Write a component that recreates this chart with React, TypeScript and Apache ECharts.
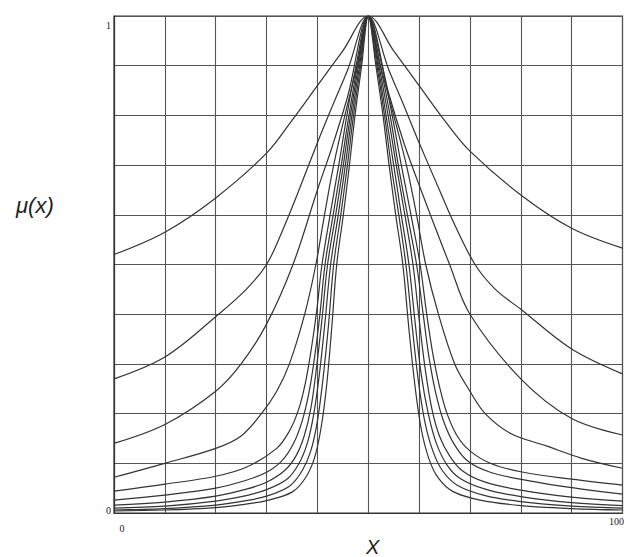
import { useEffect, useRef } from "react";
import * as echarts from "echarts";

// Axis ranges and tick labels
const xRange = [0, 100];
const yRange = [0, 1];
const xTickLabels: Record<number, string> = { 0: "0", 100: "100" };
const yTickLabels: Record<number, string> = { 0: "0", 1: "1" };

// Membership curves μ(x), each centred on x = 50, from widest to narrowest
const curve1 = [[0, 0.52], [10, 0.565], [20, 0.634], [30, 0.724], [35, 0.79], [40, 0.86], [45, 0.93], [50, 1], [55, 0.93], [60, 0.86], [65, 0.79], [70, 0.728], [80, 0.64], [90, 0.573], [100, 0.533]];
const curve2 = [[0, 0.27], [10, 0.314], [20, 0.395], [26, 0.45], [30, 0.5], [33, 0.565], [36, 0.64], [40, 0.745], [43, 0.82], [46, 0.893], [50, 1], [54, 0.893], [57, 0.82], [60, 0.745], [64, 0.65], [67, 0.58], [71, 0.5], [75, 0.45], [80, 0.41], [90, 0.33], [100, 0.28]];
const curve3 = [[0, 0.14], [10, 0.178], [20, 0.245], [25, 0.3], [30, 0.38], [35.2, 0.5], [40, 0.65], [43, 0.74], [46, 0.84], [50, 1], [54, 0.845], [57, 0.745], [60, 0.66], [66, 0.5], [70, 0.4], [80, 0.27], [90, 0.19], [100, 0.157]];
const curve4 = [[0, 0.072], [10, 0.1], [20, 0.13], [25, 0.155], [29, 0.2], [32, 0.245], [34.5, 0.3], [37.5, 0.4], [39.7, 0.5], [41.4, 0.6], [43.2, 0.7], [45.4, 0.8], [47.8, 0.9], [50, 1], [52.4, 0.9], [55, 0.8], [57.5, 0.7], [59.5, 0.6], [61.3, 0.5], [63.8, 0.4], [67, 0.3], [70, 0.245], [73, 0.2], [78, 0.16], [85, 0.135], [92, 0.11], [100, 0.09]];
const curve5 = [[0, 0.044], [10, 0.058], [20, 0.074], [26, 0.092], [32, 0.13], [34.5, 0.165], [36.2, 0.205], [37.6, 0.26], [38.8, 0.33], [39.9, 0.41], [40.9, 0.5], [42.5, 0.6], [44.2, 0.7], [45.8, 0.8], [47.6, 0.9], [50, 1], [52.7, 0.9], [54.7, 0.8], [56.5, 0.7], [58.4, 0.6], [60.2, 0.5], [61.5, 0.4], [62.7, 0.32], [64, 0.255], [65.5, 0.2], [67.5, 0.155], [70, 0.125], [74, 0.1], [80, 0.083], [90, 0.068], [100, 0.056]];
const curve6 = [[0, 0.026], [10, 0.036], [20, 0.05], [26, 0.066], [30, 0.082], [33, 0.105], [35.3, 0.14], [37, 0.185], [38.3, 0.24], [39.4, 0.31], [40.5, 0.4], [41.5, 0.5], [43.1, 0.6], [44.7, 0.7], [46.2, 0.8], [47.9, 0.9], [50, 1], [52.35, 0.9], [54.3, 0.8], [55.9, 0.7], [57.7, 0.6], [59.5, 0.5], [60.8, 0.4], [62, 0.31], [63.3, 0.24], [64.8, 0.185], [66.8, 0.14], [69.5, 0.105], [74, 0.082], [82, 0.064], [92, 0.048], [100, 0.038]];
const curve7 = [[0, 0.016], [10, 0.022], [20, 0.034], [26, 0.048], [30, 0.062], [33.5, 0.085], [35.8, 0.115], [37.4, 0.155], [38.7, 0.21], [39.8, 0.29], [40.9, 0.39], [42, 0.5], [43.6, 0.6], [45.1, 0.7], [46.5, 0.8], [48.1, 0.9], [50, 1], [52.1, 0.9], [53.9, 0.8], [55.5, 0.7], [57.2, 0.6], [58.8, 0.5], [60, 0.39], [61.2, 0.29], [62.5, 0.21], [64, 0.155], [66, 0.115], [68.5, 0.085], [73, 0.062], [80, 0.046], [90, 0.032], [100, 0.024]];
const curve8 = [[0, 0.01], [10, 0.014], [20, 0.024], [26, 0.035], [30, 0.047], [34, 0.068], [36.3, 0.098], [38, 0.14], [39.3, 0.2], [40.4, 0.28], [41.5, 0.385], [42.6, 0.5], [44.1, 0.6], [45.5, 0.7], [46.8, 0.8], [48.3, 0.9], [50, 1], [51.9, 0.9], [53.5, 0.8], [55, 0.7], [56.5, 0.6], [58, 0.5], [59.2, 0.385], [60.4, 0.28], [61.8, 0.2], [63.4, 0.14], [65.4, 0.098], [68, 0.07], [73, 0.048], [80, 0.033], [90, 0.021], [100, 0.015]];
const curve9 = [[0, 0.006], [10, 0.009], [20, 0.016], [26, 0.025], [30, 0.034], [34.5, 0.054], [37, 0.085], [38.7, 0.125], [40, 0.185], [41.1, 0.27], [42.2, 0.38], [43.2, 0.5], [44.6, 0.6], [45.9, 0.7], [47.1, 0.8], [48.5, 0.9], [50, 1], [51.7, 0.9], [53.2, 0.8], [54.5, 0.7], [56, 0.6], [57.4, 0.5], [58.6, 0.38], [59.8, 0.27], [61.1, 0.185], [62.7, 0.125], [64.6, 0.085], [67.5, 0.056], [73, 0.035], [80, 0.023], [90, 0.014], [100, 0.01]];
const curve10 = [[0, 0.004], [10, 0.006], [20, 0.011], [26, 0.018], [30, 0.025], [35, 0.042], [37.6, 0.07], [39.4, 0.11], [40.7, 0.17], [41.8, 0.255], [42.8, 0.37], [43.8, 0.5], [45.1, 0.6], [46.3, 0.7], [47.4, 0.8], [48.7, 0.9], [50, 1], [51.5, 0.9], [52.9, 0.8], [54.1, 0.7], [55.4, 0.6], [56.8, 0.5], [58, 0.37], [59.2, 0.255], [60.4, 0.17], [61.9, 0.11], [63.8, 0.07], [66.7, 0.043], [72, 0.026], [80, 0.015], [90, 0.009], [100, 0.006]];

const curves = [curve1, curve2, curve3, curve4, curve5, curve6, curve7, curve8, curve9, curve10];

const INK = "#333333";
const GRID = "#555555";
const SERIF = "'Liberation Serif', 'DejaVu Serif', serif";
const SANS = "'Liberation Sans', Arial, sans-serif";

export default function App() {
  const ref = useRef<HTMLDivElement>(null);

  useEffect(() => {
    if (!ref.current) return;
    const chart = echarts.init(ref.current, null, { renderer: "svg" });

    chart.setOption({
      animation: false,
      backgroundColor: "#ffffff",
      grid: {
        left: 114,
        right: 4,
        top: 16,
        bottom: 44,
        show: true,
        borderColor: INK,
        borderWidth: 1.2,
      },
      xAxis: {
        type: "value",
        min: xRange[0],
        max: xRange[1],
        interval: 10,
        axisLine: { show: true, lineStyle: { color: INK, width: 1.2 } },
        axisTick: { show: false },
        splitLine: { show: true, lineStyle: { color: GRID, width: 1.1 } },
        axisLabel: {
          margin: 3,
          color: "#222",
          fontFamily: SERIF,
          fontSize: 10,
          showMinLabel: true,
          showMaxLabel: true,
          formatter: (v: number) => {
            const t = xTickLabels[v];
            if (!t) return "";
            return v === xRange[0] ? `{lo|${t}}` : `{hi|${t}}`;
          },
          rich: {
            lo: { fontFamily: SERIF, fontSize: 10, color: "#222", padding: [7, 0, 0, 16] },
            hi: { fontFamily: SERIF, fontSize: 10, color: "#222", padding: [0, 12, 0, 0] },
          },
        },
      },
      yAxis: {
        type: "value",
        min: yRange[0],
        max: yRange[1],
        interval: 0.1,
        axisLine: { show: true, lineStyle: { color: INK, width: 1.2 } },
        axisTick: { show: false },
        splitLine: { show: true, lineStyle: { color: GRID, width: 1.1 } },
        axisLabel: {
          margin: 3,
          color: "#222",
          fontFamily: SERIF,
          fontSize: 10,
          showMinLabel: true,
          showMaxLabel: true,
          formatter: (v: number) => {
            const key = Math.round(v * 10) / 10;
            const t = yTickLabels[key];
            if (!t) return "";
            return key === yRange[1] ? `{top|${t}}` : `{bot|${t}}`;
          },
          rich: {
            top: { fontFamily: SERIF, fontSize: 10, color: "#222", padding: [18, 0, 0, 0] },
            bot: { fontFamily: SERIF, fontSize: 10, color: "#222", padding: [0, 0, 6, 0] },
          },
        },
      },
      series: curves.map((data, i) => ({
        name: `μ${i + 1}`,
        type: "line",
        data,
        showSymbol: false,
        smooth: 0.35,
        silent: true,
        lineStyle: { color: INK, width: 1.2 },
      })),
      graphic: [
        {
          type: "text",
          left: 16,
          top: 194,
          style: {
            text: "μ(x)",
            fontFamily: SANS,
            fontStyle: "italic",
            fontSize: 22,
            fill: "#222",
          },
        },
        {
          type: "text",
          left: 366,
          top: 537,
          style: {
            text: "X",
            fontFamily: SANS,
            fontStyle: "italic",
            fontSize: 20,
            fill: "#222",
          },
        },
      ],
    });

    return () => chart.dispose();
  }, []);

  return (
    <div
      ref={ref}
      style={{ position: "fixed", left: 0, top: 0, width: 627, height: 557 }}
    />
  );
}
